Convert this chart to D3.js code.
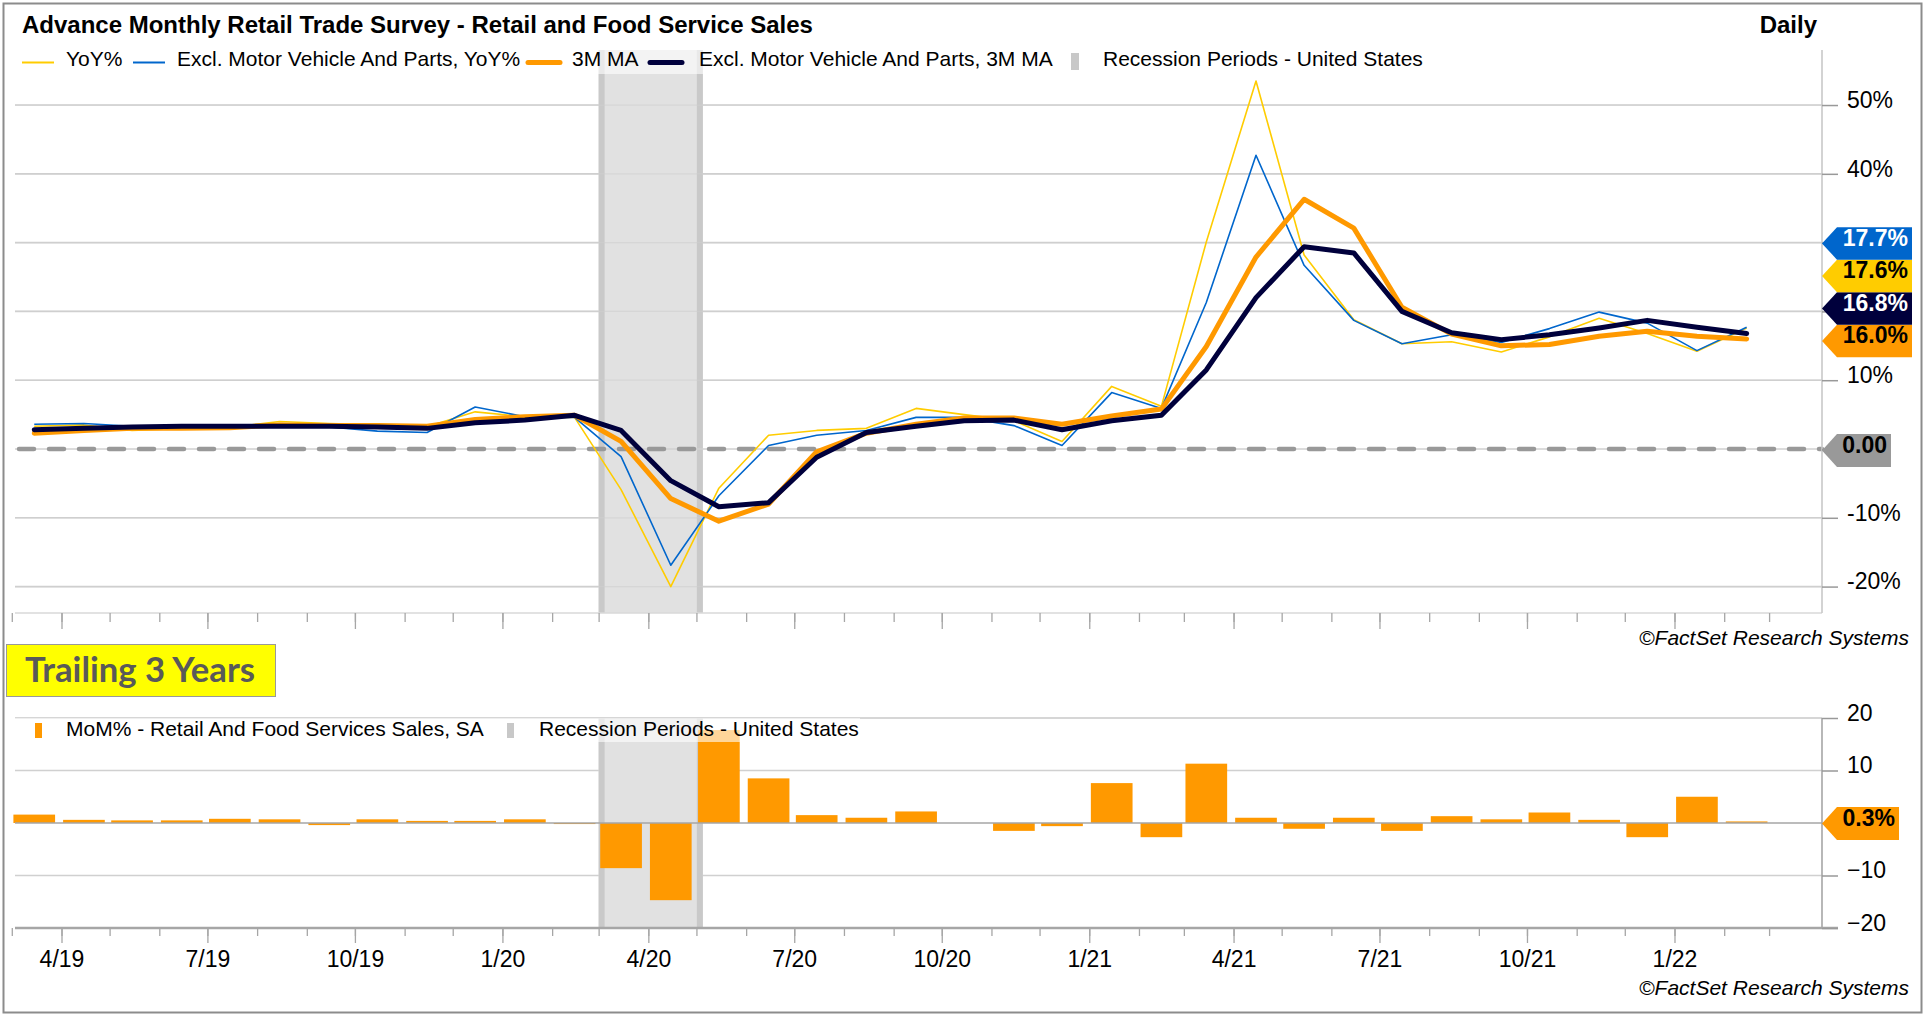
<!DOCTYPE html>
<html><head><meta charset="utf-8">
<script src="https://cdn.jsdelivr.net/npm/d3@7"></script>
<style>
html,body{margin:0;padding:0;background:#fff;}
svg{display:block;font-family:"Liberation Sans",Arial,sans-serif;}
</style></head>
<body>
<svg id="chart" width="1925" height="1015"></svg>
<script>
// ---------------- data ----------------
const months = ["2019-03","2019-04","2019-05","2019-06","2019-07","2019-08","2019-09","2019-10","2019-11","2019-12",
  "2020-01","2020-02","2020-03","2020-04","2020-05","2020-06","2020-07","2020-08","2020-09","2020-10","2020-11","2020-12",
  "2021-01","2021-02","2021-03","2021-04","2021-05","2021-06","2021-07","2021-08","2021-09","2021-10","2021-11","2021-12",
  "2022-01","2022-02"];
const yoy      = [3.3,3.5,2.7,3.0,3.1,4.0,3.7,3.5,3.25,5.4,4.7,4.6,-5.9,-20.0,-5.7,2.0,2.7,3.0,5.9,5.0,4.1,1.1,9.1,6.2,30.1,53.5,28.2,18.8,15.3,15.6,14.1,16.3,19.0,16.8,14.2,17.6];
const yoyExMV  = [3.6,3.7,3.3,3.3,3.3,3.3,3.2,2.6,2.4,6.1,4.7,4.6,-1.1,-16.9,-6.8,0.5,2.0,2.7,4.6,4.6,3.4,0.5,8.2,5.9,21.3,42.7,26.7,18.7,15.3,16.6,15.5,17.5,19.9,18.3,14.3,17.7];
const ma3      = [2.3,2.7,3.0,3.0,3.1,3.5,3.4,3.4,3.3,4.3,4.7,4.9,1.1,-7.2,-10.5,-8.0,-0.4,2.3,3.6,4.5,4.5,3.6,4.8,5.8,14.9,27.9,36.3,32.1,20.6,16.7,15.0,15.2,16.4,17.1,16.4,16.0];
const ma3ExMV  = [2.8,3.0,3.2,3.3,3.3,3.3,3.3,3.2,3.0,3.8,4.2,4.9,2.7,-4.6,-8.4,-7.8,-1.2,2.4,3.3,4.1,4.2,2.8,4.1,4.9,11.5,22.0,29.4,28.5,20.0,16.9,15.9,16.6,17.6,18.7,17.7,16.8];
const mom      = [1.6,0.6,0.5,0.5,0.8,0.7,-0.4,0.7,0.4,0.4,0.7,-0.2,-8.6,-14.7,17.7,8.5,1.5,1.0,2.2,0.0,-1.5,-0.6,7.6,-2.7,11.3,1.0,-1.1,1.0,-1.5,1.3,0.7,2.0,0.6,-2.7,5.0,0.3];
const recession = [["2020-03-01","2020-05-05"]];
const topTicks = [-20,-10,0,10,20,30,40,50];
const botTicks = [-20,-10,0,10,20];
const xDomain = ["2019-03-03","2022-04-03"];
const lastTick = "2022-03-01";

const seriesNames = ["YoY%","Excl. Motor Vehicle And Parts, YoY%","3M MA","Excl. Motor Vehicle And Parts, 3M MA"];
const seriesColors = ["#ffcc00","#0066cc","#ff9900","#00003c"];
const seriesWidths = [1.6,1.6,5,5];
const tagText = ["#000","#fff","#000","#fff"];

// ---------------- setup ----------------
const svg = d3.select("#chart");
const parseM = d3.utcParse("%Y-%m");
const parseD = d3.utcParse("%Y-%m-%d");
const mid = m => d3.utcDay.offset(parseM(m), 14);
const dates = months.map(mid);

const L = 15, R = 1822;
const x = d3.scaleUtc().domain(xDomain.map(parseD)).range([L, R]);
const yT = d3.scaleLinear().domain([-23.84, 58.0]).range([613, 50]);
const yB = d3.scaleLinear().domain([-20, 20]).range([928, 718]);
const tEnd = parseD(lastTick);
const monthTicks = d3.utcMonth.every(1).range(parseD("2019-03-01"), d3.utcDay.offset(tEnd,1));
const quarterTicks = monthTicks.filter(d=>d.getUTCMonth()%3===0);

// outer border
svg.append("rect").attr("x",3.5).attr("y",3.5).attr("width",1918).attr("height",1009)
  .attr("fill","none").attr("stroke","#8c8c8c").attr("stroke-width",2);

// title
svg.append("text").attr("x",22).attr("y",33).attr("font-size",24).attr("font-weight","bold").attr("fill","#000")
  .text("Advance Monthly Retail Trade Survey - Retail and Food Service Sales");
svg.append("text").attr("x",1817).attr("y",33).attr("text-anchor","end").attr("font-size",24).attr("font-weight","bold")
  .text("Daily");

// ---------------- upper chart ----------------
const gT = svg.append("g");
gT.selectAll("line.grid").data(topTicks.filter(d=>d!==0)).join("line")
  .attr("x1",L).attr("x2",R).attr("y1",d=>yT(d)).attr("y2",d=>yT(d))
  .attr("stroke","#d0d0d0").attr("stroke-width",1.6);
function shade(g, y0, y1){
  recession.forEach(([a,b])=>{
    const xa = x(parseD(a)), xb = x(parseD(b));
    g.append("rect").attr("x",xa).attr("y",y0).attr("width",xb-xa).attr("height",y1-y0).attr("fill","#e1e1e1");
    g.append("rect").attr("x",xa).attr("y",y0).attr("width",6).attr("height",y1-y0).attr("fill","#c9c9c9");
    g.append("rect").attr("x",xb-6).attr("y",y0).attr("width",6).attr("height",y1-y0).attr("fill","#c9c9c9");
  });
}
shade(gT, 50, 613);
gT.selectAll("line.grid2").data(topTicks.filter(d=>d!==0)).join("line")
  .attr("x1",L).attr("x2",R).attr("y1",d=>yT(d)).attr("y2",d=>yT(d))
  .attr("stroke","#cfcfcf").attr("stroke-width",1.2).attr("opacity",0.6);
gT.append("line").attr("x1",L).attr("x2",R).attr("y1",yT(0)).attr("y2",yT(0))
  .attr("stroke","#d0d0d0").attr("stroke-width",1.5);
gT.append("line").attr("x1",L+4).attr("x2",R).attr("y1",yT(0)).attr("y2",yT(0))
  .attr("stroke","#999").attr("stroke-width",4.5).attr("stroke-dasharray","15,15").attr("stroke-linecap","round");

// x axis ticks
gT.append("line").attr("x1",L).attr("x2",R).attr("y1",613).attr("y2",613).attr("stroke","#d9d9d9").attr("stroke-width",1.5);
const minorT = d3.axisBottom(x).tickValues(monthTicks).tickSize(9).tickFormat("");
const majorT = d3.axisBottom(x).tickValues(quarterTicks).tickSize(16).tickFormat("");
[minorT, majorT].forEach(ax=>{
  const g = gT.append("g").attr("transform","translate(0,613)").call(ax);
  g.select(".domain").remove();
  g.selectAll(".tick line").attr("stroke","#a6a6a6").attr("stroke-width",1.3);
});

// lines
const seriesData = [yoy, yoyExMV, ma3, ma3ExMV];
const line = d3.line().x((d,i)=>x(dates[i])).y(d=>yT(d));
seriesData.forEach((s,k)=>{
  gT.append("path").datum(s).attr("d",line).attr("fill","none")
    .attr("stroke",seriesColors[k]).attr("stroke-width",seriesWidths[k])
    .attr("stroke-linejoin","round").attr("stroke-linecap", k>1?"round":"butt");
});

// tags positions (last values stacked)
const H = 32.5;
const lastVals = seriesData.map((s,k)=>({k, v:s[s.length-1]})).sort((a,b)=>a.v-b.v);
let prev = null;
lastVals.forEach(o=>{
  let yc = yT(o.v) + 2;
  if (prev!==null && yc > prev - H) yc = prev - H;
  prev = yc; o.yc = yc;
});
const tagSpansTop = lastVals.map(o=>[o.yc-H/2, o.yc+H/2]).concat([[yT(0)-16, yT(0)+18]]);

// right axis
const axT = gT.append("g").attr("transform",`translate(${R},0)`)
  .call(d3.axisRight(yT).tickValues(topTicks).tickSize(16).tickPadding(9).tickFormat(d=>d+"%"));
axT.select(".domain").attr("d",`M0,50V613`).attr("stroke","#c8c8c8").attr("stroke-width",1.6);
axT.selectAll(".tick line").attr("stroke","#999").attr("stroke-width",1.5);
axT.selectAll(".tick text").attr("font-size",23).attr("font-family","'Liberation Sans',Arial,sans-serif")
  .attr("fill","#000").attr("dy","0.1em");
// labels hidden under tags
axT.selectAll(".tick").filter(d=>tagSpansTop.some(([a,b])=>yT(d)-6>a-8 && yT(d)-6<b+8)).select("text").remove();

// legend box
gT.append("rect").attr("x",15).attr("y",47).attr("width",1420).attr("height",27).attr("fill","#fff").attr("opacity",0.6);
const legX = [22,133,528,650];
const legTX = [66,177,572,699];
seriesNames.forEach((n,k)=>{
  gT.append("line").attr("x1",legX[k]).attr("x2",legX[k]+32).attr("y1",62.5).attr("y2",62.5)
    .attr("stroke",seriesColors[k]).attr("stroke-width",k>1?5:2).attr("stroke-linecap",k>1?"round":"butt");
  gT.append("text").attr("x",legTX[k]).attr("y",65.5).attr("font-size",21).text(n);
});
gT.append("rect").attr("x",1071).attr("y",53).attr("width",8).attr("height",17).attr("fill","#c8c8c8");
gT.append("text").attr("x",1103).attr("y",65.5).attr("font-size",21).text("Recession Periods - United States");

function tag(g, yc, right, color, txt, txtColor, h){
  const t = yc - h/2, b = yc + h/2;
  g.append("path").attr("d",`M${R},${yc}L${R+15},${t}H${right}V${b}H${R+15}Z`).attr("fill",color);
  g.append("text").attr("x",right-4).attr("y",yc+2.5).attr("text-anchor","end").attr("font-size",23)
    .attr("font-weight","bold").attr("fill",txtColor).text(txt);
}
lastVals.forEach(o=> tag(gT, o.yc, 1912, seriesColors[o.k], o.v.toFixed(1)+"%", tagText[o.k], H));
tag(gT, yT(0)+1.5, 1891, "#999999", "0.00", "#000", 33);

svg.append("text").attr("x",1909).attr("y",645).attr("text-anchor","end").attr("font-size",21).attr("font-style","italic")
  .text("©FactSet Research Systems");

// Trailing box
svg.append("rect").attr("x",6.5).attr("y",644.5).attr("width",269).attr("height",52).attr("fill","#ffff00").attr("stroke","#999").attr("stroke-width",1);
svg.append("text").attr("x",140).attr("y",682).attr("text-anchor","middle").attr("font-family","Lato,'Open Sans',sans-serif")
  .attr("font-weight","bold").attr("font-size",34).attr("fill","#595959").attr("textLength",230).attr("lengthAdjust","spacingAndGlyphs")
  .text("Trailing 3 Years");

// ---------------- lower chart ----------------
const gB = svg.append("g");
gB.selectAll("line.grid").data([-10,10]).join("line")
  .attr("x1",L).attr("x2",R).attr("y1",d=>yB(d)).attr("y2",d=>yB(d))
  .attr("stroke","#d0d0d0").attr("stroke-width",1.6);
shade(gB, 718, 928);
gB.append("line").attr("x1",L).attr("x2",R).attr("y1",yB(20)).attr("y2",yB(20)).attr("stroke","#c8c8c8").attr("stroke-width",1.6);
gB.selectAll("rect.bar").data(mom).join("rect")
  .attr("x",(d,i)=>x(d3.utcDay.offset(dates[i],-13)))
  .attr("width",(d,i)=>x(d3.utcDay.offset(dates[i],13))-x(d3.utcDay.offset(dates[i],-13)))
  .attr("y",d=>yB(Math.max(0,d))).attr("height",d=>Math.abs(yB(d)-yB(0)))
  .attr("fill","#ff9900");
gB.append("line").attr("x1",L).attr("x2",R).attr("y1",yB(0)).attr("y2",yB(0)).attr("stroke","#a6a6a6").attr("stroke-width",1.6);

gB.append("rect").attr("x",14).attr("y",718).attr("width",846).attr("height",24).attr("fill","#fff").attr("opacity",0.6);
gB.append("rect").attr("x",35).attr("y",723).attr("width",7).attr("height",15).attr("fill","#ff9900");
gB.append("text").attr("x",66).attr("y",735.5).attr("font-size",21).text("MoM% - Retail And Food Services Sales, SA");
gB.append("rect").attr("x",507).attr("y",723).attr("width",7).attr("height",15).attr("fill","#c8c8c8");
gB.append("text").attr("x",539).attr("y",735.5).attr("font-size",21).text("Recession Periods - United States");

const minorB = d3.axisBottom(x).tickValues(monthTicks).tickSize(8).tickFormat("");
const majorB = d3.axisBottom(x).tickValues(quarterTicks).tickSize(15).tickPadding(8).tickFormat(d3.utcFormat("%-m/%y"));
[minorB, majorB].forEach(ax=>{
  const g = gB.append("g").attr("transform","translate(0,928)").call(ax);
  g.select(".domain").remove();
  g.selectAll(".tick line").attr("stroke","#a6a6a6").attr("stroke-width",1.3);
  g.selectAll(".tick text").attr("font-size",23).attr("font-family","'Liberation Sans',Arial,sans-serif").attr("fill","#000");
});
gB.append("line").attr("x1",L).attr("x2",R+16).attr("y1",928).attr("y2",928).attr("stroke","#a6a6a6").attr("stroke-width",2.5);

const axB = gB.append("g").attr("transform",`translate(${R},0)`)
  .call(d3.axisRight(yB).tickValues(botTicks).tickSize(16).tickPadding(9));
axB.select(".domain").attr("d","M0,718V928").attr("stroke","#a6a6a6").attr("stroke-width",1.6);
axB.selectAll(".tick line").attr("stroke","#999").attr("stroke-width",1.5);
axB.selectAll(".tick text").attr("font-size",23).attr("font-family","'Liberation Sans',Arial,sans-serif")
  .attr("fill","#000").attr("dy","0.1em");
axB.selectAll(".tick").filter(d=>d===0).select("text").remove();

tag(gB, yB(0)+0.5, 1899, "#ff9900", mom[mom.length-1].toFixed(1)+"%", "#000", 33);

svg.append("text").attr("x",1909).attr("y",995).attr("text-anchor","end").attr("font-size",21).attr("font-style","italic")
  .text("©FactSet Research Systems");
</script>
</body></html>
